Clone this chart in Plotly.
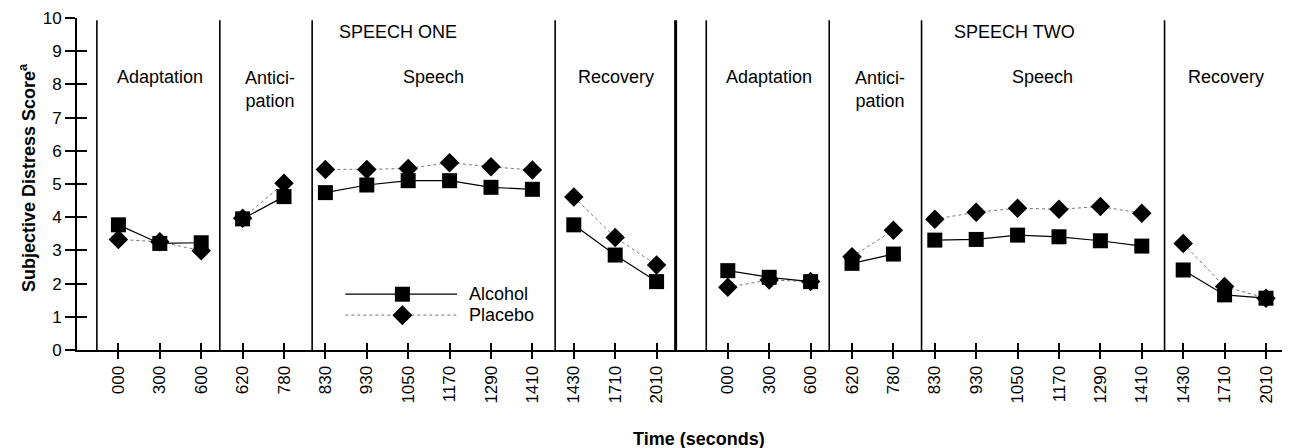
import plotly.graph_objects as go

# ---------------- data ----------------
time_labels = ["000", "300", "600", "620", "780", "830", "930", "1050",
               "1170", "1290", "1410", "1430", "1710", "2010"]
phase_names = ["Adaptation", "Antici-<br>pation", "Speech", "Recovery"]
phase_sizes = [3, 2, 6, 3]
session_names = ["SPEECH ONE", "SPEECH TWO"]

alcohol_one = [3.77, 3.21, 3.23, 3.95, 4.62, 4.74, 4.97, 5.10, 5.10, 4.90, 4.84, 3.77, 2.86, 2.06]
placebo_one = [3.33, 3.26, 2.99, 3.97, 5.02, 5.44, 5.44, 5.47, 5.64, 5.52, 5.42, 4.61, 3.39, 2.56]
alcohol_two = [2.39, 2.19, 2.06, 2.61, 2.89, 3.31, 3.33, 3.46, 3.41, 3.29, 3.13, 2.41, 1.66, 1.56]
placebo_two = [1.89, 2.11, 2.06, 2.81, 3.61, 3.94, 4.15, 4.27, 4.24, 4.32, 4.12, 3.21, 1.91, 1.56]

alcohol = [alcohol_one, alcohol_two]
placebo = [placebo_one, placebo_two]

# ---------------- layout helpers ----------------
FONT = "Liberation Sans"
SESSION_OFFSET = 14.72
divider_rel = [-0.52, 2.45, 4.68, 10.55, 13.46]
phase_label_rel = [1.0, 3.67, 7.6, 12.03]
session_label_rel = [6.76, 6.93]
BODY = 8  # default page margin around the plot div (top/left)


def positions(session):
    return [i + session * SESSION_OFFSET for i in range(len(time_labels))]


def segmented(series_by_session):
    xs, ys = [], []
    for s, vals in enumerate(series_by_session):
        pos = positions(s)
        start = 0
        for size in phase_sizes:
            xs += pos[start:start + size] + [None]
            ys += vals[start:start + size] + [None]
            start += size
    return xs, ys


px, py = segmented(placebo)
ax, ay = segmented(alcohol)

fig = go.Figure()
fig.add_trace(go.Scatter(
    x=px, y=py, mode="lines+markers", name="Placebo", showlegend=False,
    line=dict(color="#777777", width=1, dash="dot"),
    marker=dict(symbol="diamond", size=15, color="black", line=dict(width=0)),
    xaxis="x", yaxis="y"))
fig.add_trace(go.Scatter(
    x=ax, y=ay, mode="lines+markers", name="Alcohol", showlegend=False,
    line=dict(color="black", width=1.2),
    marker=dict(symbol="square", size=15, color="black", line=dict(width=0)),
    xaxis="x2", yaxis="y2"))

tickvals = positions(0) + positions(1)
ticktext = time_labels + time_labels
XRANGE = [-1.0, 28.3]

shapes = []
for s in range(2):
    for k, d in enumerate(divider_rel):
        shapes.append(dict(type="line", xref="x", yref="y",
                           x0=d + s * SESSION_OFFSET, x1=d + s * SESSION_OFFSET,
                           y0=0, y1=9.93, layer="below",
                           line=dict(color="black",
                                     width=3 if k == len(divider_rel) - 1 else 1.6)))

# legend drawn inside the Speech One panel
legend_rows = [("Alcohol", 1.68, dict(color="black", width=1.2)),
               ("Placebo", 1.05, dict(color="#777777", width=1, dash="dot"))]
for name, yv, ln in legend_rows:
    shapes.append(dict(type="line", xref="x", yref="y", x0=5.48, x1=8.18,
                       y0=yv, y1=yv, line=ln, layer="below"))
shapes.append(dict(type="rect", xref="x", yref="y", xsizemode="pixel", ysizemode="pixel",
                   xanchor=6.86, yanchor=1.68, x0=-7.5, x1=7.5, y0=-7.5, y1=7.5,
                   fillcolor="black", line=dict(width=0)))
shapes.append(dict(type="path", xref="x", yref="y", xsizemode="pixel", ysizemode="pixel",
                   xanchor=6.86, yanchor=1.05,
                   path="M 0 10 L 10 0 L 0 -10 L -10 0 Z",
                   fillcolor="black", line=dict(width=0)))

annotations = []
for s in range(2):
    for k, name in enumerate(phase_names):
        annotations.append(dict(x=phase_label_rel[k] + s * SESSION_OFFSET,
                                y=7.86 if "<br>" in name else 8.22,
                                xref="x", yref="y", text=name, showarrow=False,
                                font=dict(family=FONT, size=18, color="black")))
    annotations.append(dict(x=session_label_rel[s] + s * SESSION_OFFSET, y=9.58,
                            xref="x", yref="y", text=session_names[s], showarrow=False,
                            font=dict(family=FONT, size=18, color="black")))
for name, yv, _ in legend_rows:
    annotations.append(dict(x=8.42, y=yv, xref="x", yref="y", text=name,
                            showarrow=False, xanchor="left",
                            font=dict(family=FONT, size=18, color="black")))
annotations.append(dict(x=0.5128, y=-0.268, xref="paper", yref="paper",
                        xanchor="center", yanchor="middle",
                        text="<b>Time (seconds)</b>", showarrow=False,
                        font=dict(family=FONT, size=18, color="black")))
annotations.append(dict(x=-0.0412, y=0.518, xref="paper", yref="paper",
                        xanchor="center", yanchor="middle",
                        text="<b>Subjective Distress Score<sup>a</sup></b>",
                        textangle=-90, showarrow=False,
                        font=dict(family=FONT, size=18, color="black")))

axis_font = dict(family=FONT, size=17, color="black")
fig.update_layout(
    width=1290 - BODY, height=448 - BODY,
    margin=dict(l=77 - BODY, r=0, t=18 - BODY, b=98),
    paper_bgcolor="white", plot_bgcolor="white",
    xaxis=dict(range=XRANGE, tickmode="array", tickvals=tickvals, ticktext=ticktext,
               tickangle=-90, ticks="outside", ticklen=7, tickwidth=1.5, tickcolor="black",
               showline=True, linecolor="black", linewidth=2, showgrid=False,
               zeroline=False, tickfont=axis_font, fixedrange=True),
    yaxis=dict(range=[0, 10], tickmode="linear", tick0=0, dtick=1,
               ticks="outside", ticklen=10, tickwidth=1.5, tickcolor="black",
               showline=True, linecolor="black", linewidth=2, showgrid=False,
               zeroline=False, tickfont=axis_font, fixedrange=True),
    xaxis2=dict(range=XRANGE, overlaying="x", anchor="y2", tickmode="array",
                tickvals=tickvals, ticks="inside", ticklen=7, tickwidth=1.5,
                tickcolor="black", showticklabels=False, showline=False,
                showgrid=False, zeroline=False, fixedrange=True),
    yaxis2=dict(range=[0, 10], overlaying="y", anchor="x2", tickmode="linear",
                tick0=0, dtick=1, ticks="inside", ticklen=10, tickwidth=1.5,
                tickcolor="black", showticklabels=False, showline=False,
                showgrid=False, zeroline=False, fixedrange=True),
    shapes=shapes, annotations=annotations,
)

fig.write_html("out.html")
